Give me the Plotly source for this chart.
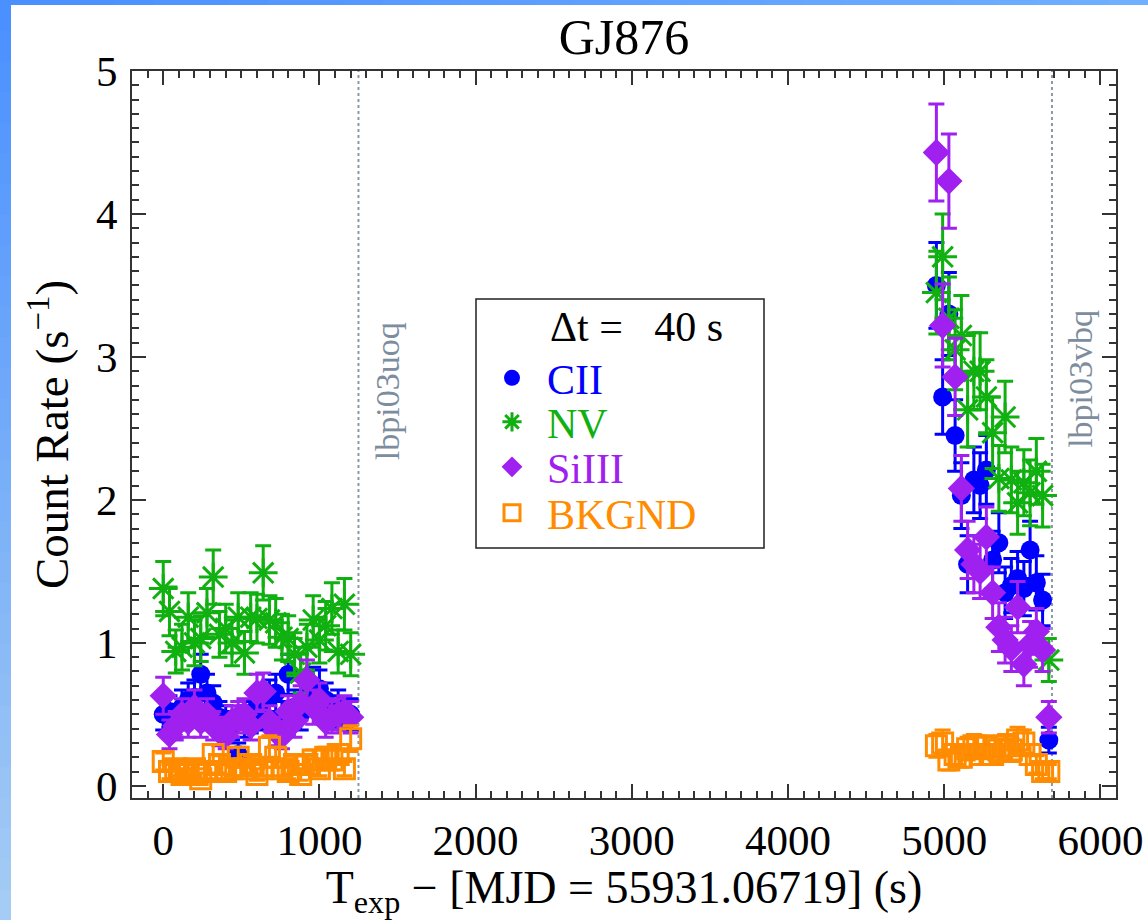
import plotly.graph_objects as go

# ---------------- data ----------------
dt = 40
t_left = [0 + 40 * i for i in range(31)]
t_right = [4950 + 40 * i for i in range(19)]

cii_left = [0.50, 0.52, 0.45, 0.55, 0.60, 0.62, 0.78, 0.65, 0.58, 0.48, 0.45, 0.42, 0.22, 0.45, 0.48, 0.55,
            0.50, 0.62, 0.65, 0.48, 0.78, 0.55, 0.50, 0.62, 0.70, 0.68, 0.60, 0.52, 0.55, 0.50, 0.50]
cii_right = [3.50, 2.72, 3.30, 2.45, 2.03, 1.55, 2.14, 2.10, 2.21, 1.58, 1.70, 1.35, 1.40, 1.45, 1.38, 1.65,
             1.42, 1.30, 0.32]
cii_err_left = [0.11, 0.11, 0.11, 0.12, 0.12, 0.12, 0.14, 0.13, 0.12, 0.11, 0.11, 0.10, 0.08, 0.11, 0.11, 0.12,
                0.11, 0.12, 0.13, 0.11, 0.14, 0.12, 0.11, 0.12, 0.13, 0.13, 0.12, 0.11, 0.12, 0.11, 0.11]
cii_err_right = [0.30, 0.26, 0.29, 0.25, 0.23, 0.20, 0.23, 0.23, 0.24, 0.20, 0.21, 0.18, 0.19, 0.19, 0.19, 0.20,
                 0.19, 0.18, 0.09]

nv_left = [1.38, 1.22, 0.94, 0.97, 1.18, 1.00, 1.03, 1.21, 1.46, 1.06, 1.10, 1.00, 1.18, 0.93, 1.18, 1.17,
           1.49, 1.16, 1.14, 1.04, 1.03, 0.92, 0.79, 0.97, 1.16, 1.02, 1.12, 1.24, 0.94, 1.27, 0.92]
nv_right = [3.45, 3.70, 3.27, 3.05, 3.15, 2.63, 2.90, 2.90, 2.72, 2.47, 2.15, 2.58, 2.14, 1.98, 2.12, 2.05,
            2.20, 2.03, 0.88]
nv_err_left = [0.19, 0.17, 0.15, 0.16, 0.17, 0.16, 0.16, 0.17, 0.19, 0.16, 0.17, 0.16, 0.17, 0.15, 0.17, 0.17,
               0.19, 0.17, 0.17, 0.16, 0.16, 0.15, 0.14, 0.16, 0.17, 0.16, 0.17, 0.18, 0.15, 0.18, 0.15]
nv_err_right = [0.29, 0.30, 0.29, 0.28, 0.28, 0.26, 0.27, 0.27, 0.26, 0.25, 0.23, 0.25, 0.23, 0.22, 0.23, 0.23,
                0.23, 0.22, 0.15]

si_left = [0.63, 0.36, 0.42, 0.50, 0.45, 0.55, 0.45, 0.50, 0.42, 0.38, 0.35, 0.45, 0.48, 0.50, 0.42, 0.65,
           0.66, 0.45, 0.38, 0.35, 0.52, 0.45, 0.58, 0.74, 0.55, 0.60, 0.45, 0.48, 0.50, 0.52, 0.48]
si_right = [4.43, 3.22, 4.23, 2.86, 2.08, 1.65, 1.55, 1.50, 1.74, 1.35, 1.11, 1.02, 0.96, 1.25, 0.85, 0.99,
            1.08, 0.95, 0.48]
si_err_left = [0.13, 0.10, 0.10, 0.11, 0.11, 0.12, 0.11, 0.11, 0.10, 0.10, 0.09, 0.11, 0.11, 0.11, 0.10, 0.13,
               0.13, 0.11, 0.10, 0.09, 0.11, 0.11, 0.12, 0.14, 0.12, 0.12, 0.11, 0.11, 0.11, 0.11, 0.11]
si_err_right = [0.34, 0.29, 0.33, 0.27, 0.23, 0.20, 0.20, 0.19, 0.21, 0.18, 0.17, 0.16, 0.16, 0.18, 0.15, 0.16,
                0.16, 0.15, 0.11]

bk_left = [0.17, 0.10, 0.12, 0.08, 0.10, 0.12, 0.05, 0.10, 0.22, 0.15, 0.10, 0.12, 0.20, 0.12, 0.15, 0.08,
           0.12, 0.27, 0.20, 0.12, 0.10, 0.15, 0.08, 0.15, 0.18, 0.12, 0.20, 0.18, 0.22, 0.12, 0.33]
bk_right = [0.28, 0.30, 0.18, 0.22, 0.20, 0.26, 0.28, 0.22, 0.27, 0.22, 0.25, 0.28, 0.25, 0.32, 0.30, 0.22,
            0.15, 0.10, 0.10]
bk_err_left = [0.06, 0.05, 0.05, 0.04, 0.05, 0.05, 0.04, 0.05, 0.07, 0.06, 0.05, 0.05, 0.07, 0.05, 0.06, 0.04,
               0.05, 0.08, 0.07, 0.05, 0.05, 0.06, 0.04, 0.06, 0.07, 0.05, 0.07, 0.07, 0.07, 0.05, 0.09]
bk_err_right = [0.08, 0.09, 0.07, 0.07, 0.07, 0.08, 0.08, 0.07, 0.08, 0.07, 0.08, 0.08, 0.08, 0.09, 0.09, 0.07,
                0.06, 0.05, 0.05]

exposure_starts = [1250, 5690]
exposure_names = ["lbpi03uoq", "lbpi03vbq"]
exposure_label_y = [2.76, 2.85]

series_names = ["CII", "NV", "SiIII", "BKGND"]
title_text = "GJ876"
x_tick_vals = [0, 1000, 2000, 3000, 4000, 5000, 6000]
y_tick_vals = [0, 1, 2, 3, 4, 5]

# ---------------- style ----------------
FONT = "Liberation Serif, Times New Roman, serif"
C_CII = "#0000ff"
C_NV = "#10b010"
C_SI = "#a020f0"
C_BK = "#ff8c00"
LEG_TXT = 42

# geometry helpers (pixels -> paper)
L, R, T, B = 132, 32, 71, 122
W, H = 1148, 920
pw, ph = W - L - R, H - T - B


def px2paper_x(px):
    return (px - L) / pw


def px2paper_y(py):
    return 1 - (py - T) / ph


fig = go.Figure()
legend_layouts = {}


def add_series(idx, label, color, xs, ys, es, symbol, size, legend_row_px, open_sym=False, lw=2.5):
    marker = dict(symbol=symbol, size=size, color=color)
    if open_sym:
        marker["line"] = dict(color=color, width=lw)
    lname = "legend" if idx == 0 else "legend%d" % (idx + 1)
    fig.add_trace(go.Scatter(
        x=xs, y=ys, mode="markers", name=label, legend=lname,
        marker=marker,
        error_y=dict(type="data", array=es, visible=True, color=color, thickness=3, width=8),
    ))
    legend_layouts[lname] = dict(
        x=px2paper_x(477), y=px2paper_y(legend_row_px), xanchor="left", yanchor="middle",
        bgcolor="rgba(0,0,0,0)", borderwidth=0,
        font=dict(family=FONT, size=LEG_TXT, color=color),
        itemsizing="trace", itemwidth=60,
    )


add_series(0, series_names[0], C_CII, t_left + t_right, cii_left + cii_right,
           cii_err_left + cii_err_right, "circle", 19, 378)
add_series(1, series_names[1], C_NV, t_left + t_right, nv_left + nv_right,
           nv_err_left + nv_err_right, "asterisk-open", 24, 422, open_sym=True, lw=3)
add_series(2, series_names[2], C_SI, t_left + t_right, si_left + si_right,
           si_err_left + si_err_right, "diamond", 21, 467)
add_series(3, series_names[3], C_BK, t_left + t_right, bk_left + bk_right,
           bk_err_left + bk_err_right, "square-open", 20, 513, open_sym=True, lw=3)

# exposure boundaries
for xs, nm, ly in zip(exposure_starts, exposure_names, exposure_label_y):
    fig.add_shape(type="line", xref="x", yref="paper", x0=xs, x1=xs, y0=0, y1=1,
                  line=dict(color="#8a98a8", width=2, dash="dot"), layer="below")
    fig.add_annotation(x=xs, y=ly, xref="x", yref="y", text=nm, textangle=-90, showarrow=False,
                       xanchor="left", xshift=8, font=dict(family=FONT, size=34, color="#7d8d9d"))

# blue slide frame (left and top strips)
n = 30
for k in range(n):
    f = k / (n - 1)
    r = int(0x4a + (0xa4 - 0x4a) * f)
    g = int(0x90 + (0xcc - 0x90) * f)
    b = int(0xff + (0xf4 - 0xff) * f)
    fig.add_shape(type="rect", xref="paper", yref="paper",
                  x0=px2paper_x(0), x1=px2paper_x(11),
                  y0=px2paper_y(H * (k + 1) / n + 1), y1=px2paper_y(H * k / n),
                  line=dict(width=0), fillcolor="rgb(%d,%d,%d)" % (r, g, b), layer="below")
for k in range(n):
    f = k / (n - 1)
    r = int(0x4a + (0x70 - 0x4a) * f)
    g = int(0x90 + (0xb0 - 0x90) * f)
    fig.add_shape(type="rect", xref="paper", yref="paper",
                  x0=px2paper_x(W * k / n), x1=px2paper_x(W * (k + 1) / n + 1),
                  y0=px2paper_y(5), y1=px2paper_y(0),
                  line=dict(width=0), fillcolor="rgb(%d,%d,255)" % (r, g), layer="below")

# legend frame and header
fig.add_shape(type="rect", xref="paper", yref="paper",
              x0=px2paper_x(476), x1=px2paper_x(764), y0=px2paper_y(548), y1=px2paper_y(299),
              line=dict(color="#222222", width=1.5), fillcolor="white", layer="above")
fig.add_annotation(xref="paper", yref="paper", x=px2paper_x(548), y=px2paper_y(327),
                   xanchor="left", yanchor="middle", showarrow=False,
                   text="\u0394t =\u00a0\u00a0\u00a040 s",
                   font=dict(family=FONT, size=42, color="black"))

axis_common = dict(
    showline=True, linecolor="#333333", linewidth=2, mirror="allticks",
    ticks="inside", ticklen=14, tickwidth=1.5, tickcolor="#333333",
    showgrid=False, zeroline=False, automargin=False,
    tickfont=dict(family=FONT, size=43, color="black"),
)

fig.update_xaxes(
    range=[-200, 6100], tickvals=x_tick_vals,
    minor=dict(dtick=100, ticks="inside", ticklen=7, tickwidth=1.5, tickcolor="#333333", showgrid=False),
    title=dict(text="T<sub>exp</sub> \u2212 [MJD = 55931.06719] (s)",
               font=dict(family=FONT, size=46, color="black"), standoff=16),
    ticklabelstandoff=3,
    **axis_common,
)
fig.update_yaxes(
    range=[-0.085, 5.0], tickvals=y_tick_vals,
    minor=dict(dtick=0.1, ticks="inside", ticklen=7, tickwidth=1.5, tickcolor="#333333", showgrid=False),
    title=dict(text="Count Rate (s<sup>\u22121</sup>)",
               font=dict(family=FONT, size=47, color="black"), standoff=12),
    ticklabelstandoff=4,
    **axis_common,
)

fig.update_layout(
    width=W, height=H,
    margin=dict(l=L, r=R, t=T, b=B),
    paper_bgcolor="white", plot_bgcolor="white",
    title=dict(text=title_text, x=0.5, xref="paper", y=1 - 36 / H, yanchor="middle",
               font=dict(family=FONT, size=50, color="black")),
    showlegend=True,
    **legend_layouts,
)

fig.write_html("out.html")
